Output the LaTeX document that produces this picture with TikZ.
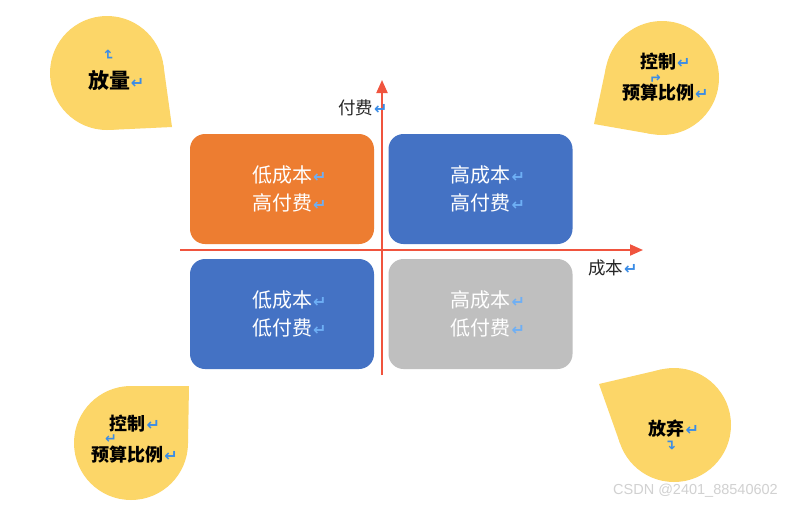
\documentclass[tikz,border=0pt]{standalone}
\usepackage{fontspec}
\setmainfont{Noto Sans CJK SC}
\newfontfamily\symfont{DejaVu Sans}[BoldFont={DejaVu Sans Bold}]
\newfontfamily\wmfont{Liberation Sans}
\usetikzlibrary{arrows.meta,calc}

\definecolor{dropyellow}{RGB}{252,214,104}
\definecolor{boxorange}{RGB}{237,125,49}
\definecolor{boxblue}{RGB}{68,114,196}
\definecolor{boxgray}{RGB}{191,191,191}
\definecolor{axisred}{RGB}{240,84,62}
\definecolor{markblue}{RGB}{58,140,230}
\definecolor{marklight}{RGB}{110,175,245}

\newcommand{\retmark}{\rlap{\hspace{1pt}\textcolor{markblue}{\symfont\bfseries\fontsize{16}{16}\selectfont ↵}}}
\newcommand{\retmarkw}{\rlap{\hspace{1pt}\textcolor{marklight}{\symfont\bfseries\fontsize{16}{16}\selectfont ↵}}}

\tikzset{
  quadbox/.style={rectangle, rounded corners=15pt, minimum width=184pt, minimum height=110pt,
    inner sep=0pt, text=white, align=center, font=\fontsize{20}{28.5}\selectfont},
  dropcirc/.style={circle, fill=dropyellow, minimum size=114pt, inner sep=0pt, outer sep=0pt},
  droptext/.style={align=center, inner sep=0pt, font=\bfseries\fontsize{18}{31}\selectfont},
  axislabel/.style={inner sep=0pt, text=black!85, font=\fontsize{17.5}{17.5}\selectfont},
  axisline/.style={axisred, line width=2pt, -{Triangle[length=13pt,width=11pt]}},
  hookmark/.style={inner sep=0pt, text=markblue, font=\symfont\bfseries\fontsize{14}{14}\selectfont},
}

\begin{document}
\begin{tikzpicture}[x=1pt, y=-1pt]
\fill[white] (0,0) rectangle (807,507);
\useasboundingbox (0,0) rectangle (807,507);

% corner drops
\node[dropcirc] (tlc) at (107,73) {};
\coordinate (tlt) at (172,127);
\fill[dropyellow] (tlt) -- (tangent cs:node=tlc,point={(tlt)},solution=1)
    -- (tlc.center) -- (tangent cs:node=tlc,point={(tlt)},solution=2) -- cycle;

\node[dropcirc] (trc) at (662,78) {};
\coordinate (trt) at (594,124);
\fill[dropyellow] (trt) -- (tangent cs:node=trc,point={(trt)},solution=1)
    -- (trc.center) -- (tangent cs:node=trc,point={(trt)},solution=2) -- cycle;

\node[dropcirc] (blc) at (131,443) {};
\coordinate (blt) at (189,386);
\fill[dropyellow] (blt) -- (tangent cs:node=blc,point={(blt)},solution=1)
    -- (blc.center) -- (tangent cs:node=blc,point={(blt)},solution=2) -- cycle;

\node[dropcirc] (brc) at (674,425) {};
\coordinate (brt) at (599,384);
\fill[dropyellow] (brt) -- (tangent cs:node=brc,point={(brt)},solution=1)
    -- (brc.center) -- (tangent cs:node=brc,point={(brt)},solution=2) -- cycle;

\node[droptext, font=\bfseries\fontsize{21}{21}\selectfont] (tltext) at (109,80) {放量\retmark};
\node[hookmark, rotate=-90] (tlhook) at (108,55) {↵};

\node[droptext] (trtext) at (658,77) {控制\retmark\\预算比例\retmark};
\node[hookmark, rotate=180] (trhook) at (655,78) {↵};

\node[droptext] (bltext) at (127.5,439) {控制\retmark\\预算比例\retmark};
\node[hookmark] (blhook) at (111,439) {↵};

\node[droptext] (brtext) at (666.5,429) {放弃\retmark};
\node[hookmark, rotate=90] (brhook) at (672,445) {↵};

% quadrants
\node[quadbox, fill=boxorange] (lowcosthigh) at (282,189) {低成本\retmarkw\\高付费\retmarkw};
\node[quadbox, fill=boxblue] (highcosthigh) at (480.5,189) {高成本\retmarkw\\高付费\retmarkw};
\node[quadbox, fill=boxblue] (lowcostlow) at (282,314) {低成本\retmarkw\\低付费\retmarkw};
\node[quadbox, fill=boxgray] (highcostlow) at (480.5,314) {高成本\retmarkw\\低付费\retmarkw};

% axes
\coordinate (xstart) at (180,250);
\coordinate (xend) at (643,250);
\coordinate (ystart) at (382,375);
\coordinate (yend) at (382,80);
\draw[axisline] (xstart) -- (xend);
\draw[axisline] (ystart) -- (yend);

\node[axislabel] (paylabel) at (355.5,108) {付费\retmark};
\node[axislabel] (costlabel) at (605.5,268) {成本\retmark};

\node[text=black!18, font=\wmfont\fontsize{14.5}{14.5}\selectfont] (watermark) at (695.5,491) {CSDN @2401\_88540602};
\end{tikzpicture}
\end{document}
